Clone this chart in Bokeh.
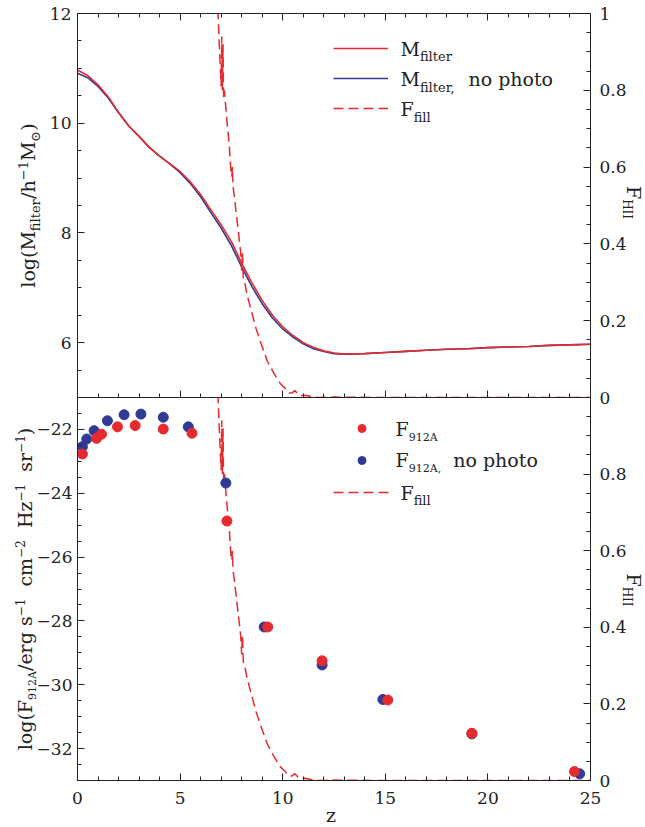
import os
import glob
import math

from bokeh.plotting import figure
from bokeh.models import (Range1d, LinearAxis, FixedTicker, Label, Legend,
                          LegendItem, NumeralTickFormatter)
from bokeh.layouts import column, row
from bokeh.embed import file_html
from bokeh.resources import INLINE

# ---------------- data ----------------
z_m = [0, 0.5, 1, 1.5, 2, 2.5, 3, 3.5, 4, 4.5, 5, 5.5, 6, 6.5, 7, 7.5, 8, 8.5,
       9, 9.5, 10, 10.5, 11, 11.5, 12, 12.5, 13, 14, 15, 16, 17, 18, 19, 20,
       21, 22, 23, 24, 25]
logm_filter = [10.97, 10.87, 10.70, 10.48, 10.20, 9.95, 9.76, 9.56, 9.40, 9.26,
               9.12, 8.93, 8.70, 8.42, 8.15, 7.84, 7.45, 7.09, 6.77, 6.50, 6.29,
               6.13, 6.00, 5.91, 5.85, 5.81, 5.79, 5.80, 5.82, 5.84, 5.86, 5.88,
               5.89, 5.91, 5.92, 5.93, 5.95, 5.96, 5.97]
logm_filter_nophoto = [10.91, 10.83, 10.67, 10.46, 10.19, 9.95, 9.76, 9.56, 9.40,
                       9.26, 9.10, 8.90, 8.66, 8.37, 8.09, 7.77, 7.38, 7.02, 6.71,
                       6.45, 6.25, 6.10, 5.98, 5.89, 5.84, 5.80, 5.79, 5.80, 5.82,
                       5.84, 5.86, 5.88, 5.89, 5.91, 5.92, 5.93, 5.95, 5.96, 5.97]

z_fill = [6.80, 6.85, 6.90, 6.95, 7.00, 7.03, 7.06, 7.09, 7.12, 7.16, 7.22, 7.30,
          7.40, 7.48, 7.52, 7.55, 7.58, 7.65, 7.80, 7.95, 8.00, 8.04, 8.08, 8.15,
          8.25, 8.45, 8.70, 8.95, 9.25, 9.60, 9.90, 10.10, 10.30, 10.45, 10.60,
          10.75, 10.90, 11.10, 11.40, 11.80, 12.50, 15.0, 20.0, 25.0]
f_fill = [1.05, 1.00, 0.93, 0.87, 0.81, 0.94, 0.80, 0.92, 0.78, 0.80, 0.76, 0.71,
          0.655, 0.585, 0.575, 0.60, 0.55, 0.52, 0.45, 0.38, 0.33, 0.38, 0.31, 0.30,
          0.27, 0.23, 0.18, 0.14, 0.095, 0.06, 0.035, 0.025, 0.012, 0.012, 0.018,
          0.008, 0.005, 0.006, 0.002, 0.0, 0.001, 0.0, 0.0, 0.0]

z_f912 = [0.24, 0.93, 1.17, 1.95, 2.81, 4.18, 5.58, 7.28, 9.27, 11.92, 15.12,
          19.22, 24.22]
logf912 = [-22.77, -22.28, -22.15, -21.92, -21.88, -21.99, -22.12, -24.87,
           -28.19, -29.25, -30.48, -31.52, -32.72]
z_f912_nophoto = [0.24, 0.45, 0.81, 1.46, 2.27, 3.09, 4.18, 5.40, 7.23, 9.10,
                  11.92, 14.88, 19.22, 24.47]
logf912_nophoto = [-22.54, -22.30, -22.04, -21.73, -21.54, -21.52, -21.62, -21.92,
                   -23.68, -28.19, -29.38, -30.46, -31.54, -32.79]

x_ticks = [0, 5, 10, 15, 20, 25]
x_minor = list(range(0, 26))
top_y_ticks = [6, 8, 10, 12]
top_y_minor = [5 + 0.5 * i for i in range(15)]
bot_y_ticks = [-32, -30, -28, -26, -24, -22]
bot_y_minor = [-33 + 0.5 * i for i in range(25)]
f_ticks_top = [0, 0.2, 0.4, 0.6, 0.8, 1]
f_ticks_bot = [0, 0.2, 0.4, 0.6, 0.8]
f_minor = [0.05 * i for i in range(21)]

# ---------------- style ----------------
FONT = "DejaVu Serif"
RED = "#E62A2E"
BLUE = "#2E3A93"
INK = "#222222"
PAGE_W, PAGE_H = 645, 827
FW = 513
FH_TOP = 384
FH_BOT = 383
LEFT = 77      # frame left edge (px from page left)
TOPM = 13      # frame top edge
RIGHTM = 55    # space right of the frame
SPLIT = 12     # overlap of the two panel canvases (keeps the boundary "0" whole)
BOTM = PAGE_H - TOPM - FH_TOP - FH_BOT   # space below the lower frame
MID = 0.346    # (ascent - descent) / 2 of DejaVu Serif, in em


# ---------------- text measuring (for composed sub/superscript labels) -------
def _find(fname):
    dirs = ["/usr/share/fonts", "/usr/local/share/fonts",
            os.path.expanduser("~/.fonts"), os.path.expanduser("~/.local/share/fonts")]
    for d in dirs:
        hits = glob.glob(os.path.join(d, "**", fname), recursive=True)
        if hits:
            return hits[0]
    return None


_EM = {" ": 0.318, "(": 0.39, ")": 0.39, "/": 0.337, ",": 0.318, "−": 0.838,
       "A": 0.722, "F": 0.724, "H": 0.874, "I": 0.438, "M": 0.993, "c": 0.56,
       "e": 0.592, "f": 0.37, "g": 0.64, "h": 0.644, "i": 0.32, "l": 0.32,
       "m": 0.948, "n": 0.644, "o": 0.602, "p": 0.64, "r": 0.478, "s": 0.513,
       "t": 0.402, "z": 0.525, "⊙": 0.838}
try:
    from PIL import ImageFont
    _SERIF = _find("DejaVuSerif.ttf")
    _SANS = _find("DejaVuSans.ttf")
except Exception:
    ImageFont = None
    _SERIF = _SANS = None
_cache = {}


def text_width(text, size):
    total = 0.0
    for ch in text:
        path = _SANS if ch == "⊙" else _SERIF
        w = None
        if ImageFont is not None and path:
            try:
                key = (path, size)
                if key not in _cache:
                    _cache[key] = ImageFont.truetype(path, size)
                w = _cache[key].getlength(ch)
            except Exception:
                w = None
        if w is None:
            w = _EM.get(ch, 0.636 if ch.isdigit() else 0.6) * size
        total += w
    return total


def rich(p, pieces, x0, y0, orient=0, align="left", color=INK):
    """Place text pieces (text, size_px, down_shift_px) one after another,
    starting at baseline point (x0, y0) in screen px of p's frame (y up).
    orient 0: horizontal; 1: rotated CCW (reads upward); -1: rotated CW."""
    if orient == 0:
        adv, up = (1, 0), (0, 1)
    elif orient == 1:
        adv, up = (0, 1), (-1, 0)
    else:
        adv, up = (0, -1), (1, 0)
    total = sum(text_width(t, s) for t, s, _ in pieces)
    pos = -total / 2 if align == "center" else 0.0
    for t, s, sh in pieces:
        lead = len(t) - len(t.lstrip(" "))
        trail = len(t) - len(t.rstrip(" "))
        core = t.strip(" ")
        pos += text_width(" ", s) * lead
        off = MID * s - sh
        x = x0 + adv[0] * pos + up[0] * off
        y = y0 + adv[1] * pos + up[1] * off
        p.add_layout(Label(x=x, y=y, x_units="screen", y_units="screen", text=core,
                           angle=orient * math.pi / 2, text_font=FONT,
                           text_font_size=f"{s}px", text_align="left",
                           text_baseline="middle", text_color=color))
        pos += text_width(core, s) + text_width(" ", s) * trail


def style_axis(ax, labels=True, size=17, standoff=6):
    ax.axis_line_color = INK
    ax.axis_line_width = 1
    ax.major_tick_line_color = INK
    ax.minor_tick_line_color = INK
    ax.major_tick_in = 7
    ax.major_tick_out = 0
    ax.minor_tick_in = 4
    ax.minor_tick_out = 0
    ax.major_label_text_font = FONT
    if labels:
        ax.major_label_text_color = INK
        ax.major_label_text_font_size = f"{size}px"
        ax.major_label_standoff = standoff
    else:
        ax.major_label_text_color = None
        ax.major_label_text_font_size = "1px"
        ax.major_label_standoff = 0
    return ax


def hide_grids(p):
    for r in list(p.center):
        if r.__class__.__name__ == "Grid":
            r.visible = False


# ---------------- top panel ----------------
top = figure(frame_width=FW, frame_height=FH_TOP, x_range=Range1d(0, 25),
             y_range=Range1d(5, 12), x_axis_location=None, y_axis_location=None,
             output_backend="svg", toolbar_location=None,
             min_border_left=LEFT, min_border_right=RIGHTM, min_border_top=TOPM,
             min_border_bottom=SPLIT)
top.extra_y_ranges = {"f": Range1d(0, 1)}
top.outline_line_color = INK
top.border_fill_alpha = 0
top.background_fill_alpha = 0
hide_grids(top)

top.add_layout(style_axis(LinearAxis(ticker=FixedTicker(ticks=x_ticks, minor_ticks=x_minor)), labels=False), "above")
top.add_layout(style_axis(LinearAxis(ticker=FixedTicker(ticks=x_ticks, minor_ticks=x_minor)), labels=False), "below")
top.add_layout(style_axis(LinearAxis(ticker=FixedTicker(ticks=top_y_ticks, minor_ticks=top_y_minor))), "left")
top.add_layout(style_axis(LinearAxis(y_range_name="f",
                                     ticker=FixedTicker(ticks=f_ticks_top, minor_ticks=f_minor),
                                     formatter=NumeralTickFormatter(format="0.[0]")),
                          standoff=9), "right")

r_blue = top.line(z_m, logm_filter_nophoto, color=BLUE, line_width=1.6)
r_red = top.line(z_m, logm_filter, color=RED, line_width=1.6)
r_fill = top.line(z_fill, f_fill, y_range_name="f", color=RED, line_width=1.5,
                  line_dash="10 5")

leg_top = Legend(items=[LegendItem(label=" ", renderers=[r_red]),
                        LegendItem(label=" ", renderers=[r_blue]),
                        LegendItem(label=" ", renderers=[r_fill])],
                 location=(256, 279), glyph_width=55, glyph_height=20,
                 label_height=20, label_width=0, label_standoff=0, spacing=10,
                 padding=0, margin=0, label_text_font_size="1px",
                 label_text_color=None,
                 border_line_color=None, background_fill_alpha=0)
top.add_layout(leg_top)

rich(top, [("M", 19, 0), ("filter", 13, 6)], 323, 342.3)
rich(top, [("M", 19, 0), ("filter,", 13, 6), ("  no photo", 19, 0)], 323, 311.7)
rich(top, [("F", 19, 0), ("fill", 13, 6)], 323, 281.7)

# ---------------- bottom panel ----------------
bot = figure(frame_width=FW, frame_height=FH_BOT, x_range=Range1d(0, 25),
             y_range=Range1d(-33, -21), x_axis_location=None, y_axis_location=None,
             output_backend="svg", toolbar_location=None,
             min_border_left=LEFT, min_border_right=RIGHTM, min_border_top=0,
             min_border_bottom=BOTM, margin=(-SPLIT, 0, 0, 0))
bot.extra_y_ranges = {"f": Range1d(0, 1)}
bot.outline_line_color = INK
bot.border_fill_alpha = 0
bot.background_fill_alpha = 0
hide_grids(bot)

bot.add_layout(style_axis(LinearAxis(ticker=FixedTicker(ticks=x_ticks, minor_ticks=x_minor)),
                          standoff=11), "below")
yl = style_axis(LinearAxis(ticker=FixedTicker(ticks=bot_y_ticks, minor_ticks=bot_y_minor)), standoff=5)
yl.major_label_overrides = {t: "−%d" % (-t) for t in bot_y_ticks}
bot.add_layout(yl, "left")
bot.add_layout(style_axis(LinearAxis(y_range_name="f",
                                     ticker=FixedTicker(ticks=f_ticks_bot, minor_ticks=f_minor),
                                     formatter=NumeralTickFormatter(format="0.[0]")),
                          standoff=9), "right")

r_fill2 = bot.line(z_fill, f_fill, y_range_name="f", color=RED, line_width=1.5,
                   line_dash="10 5")
r_pb = bot.scatter(z_f912_nophoto, logf912_nophoto, size=10, color=BLUE)
r_pr = bot.scatter(z_f912, logf912, size=10, color=RED)

leg_bot = Legend(items=[LegendItem(label=" ", renderers=[r_pr]),
                        LegendItem(label=" ", renderers=[r_pb]),
                        LegendItem(label=" ", renderers=[r_fill2])],
                 location=(256, 278), glyph_width=57, glyph_height=20,
                 label_height=20, label_width=0, label_standoff=0, spacing=12,
                 padding=0, margin=0, label_text_font_size="1px",
                 label_text_color=None,
                 border_line_color=None, background_fill_alpha=0)
bot.add_layout(leg_bot)

rich(bot, [("F", 19, 0), ("912A", 11, 6)], 318, 344.7)
rich(bot, [("F", 19, 0), ("912A,", 11, 6), ("  no photo", 19, 0)], 318, 313.7)
rich(bot, [("F", 19, 0), ("fill", 13, 6)], 323, 281.3)

# ---------------- axis titles (a transparent full-page layer underneath) ----
over = figure(width=PAGE_W, height=PAGE_H, x_range=Range1d(0, 1), y_range=Range1d(0, 1),
              x_axis_location=None, y_axis_location=None, output_backend="svg",
              toolbar_location=None, min_border=0)
over.outline_line_color = None
over.background_fill_alpha = 0
over.border_fill_alpha = 0
hide_grids(over)

top_mid = TOPM + FH_TOP / 2               # page y of the upper panel centre
bot_mid = TOPM + FH_TOP + FH_BOT / 2      # page y of the lower panel centre

rich(over, [("log(M", 19, 0), ("filter", 13, 5), ("/h", 19, 0), ("−1", 13, -7),
            ("M", 19, 0), ("⊙", 13, 5), (")", 19, 0)],
     34, PAGE_H - top_mid, orient=1, align="center")
rich(over, [("log(F", 19, 0), ("912A", 11, 5), ("/erg s", 19, 0), ("−1", 12, -7),
            ("  cm", 19, 0), ("−2", 12, -7), ("  Hz", 19, 0), ("−1", 12, -7),
            ("  sr", 19, 0), ("−1", 12, -7), (")", 19, 0)],
     31, PAGE_H - bot_mid, orient=1, align="center")
rich(over, [("F", 19, 0), ("HII", 12, 5)], 627, PAGE_H - (top_mid - 3), orient=-1, align="center")
rich(over, [("F", 19, 0), ("HII", 12, 5)], 627, PAGE_H - (bot_mid + 1), orient=-1, align="center")
over.add_layout(Label(x=LEFT + FW / 2 - 3, y=12.5, x_units="screen", y_units="screen",
                      text="z", text_font=FONT, text_font_size="19px",
                      text_align="center", text_baseline="middle", text_color=INK))

main = column(top, bot, margin=(0, 0, 0, -PAGE_W))
layout = row(over, main)
open("out.html", "w").write(file_html(layout, INLINE))
